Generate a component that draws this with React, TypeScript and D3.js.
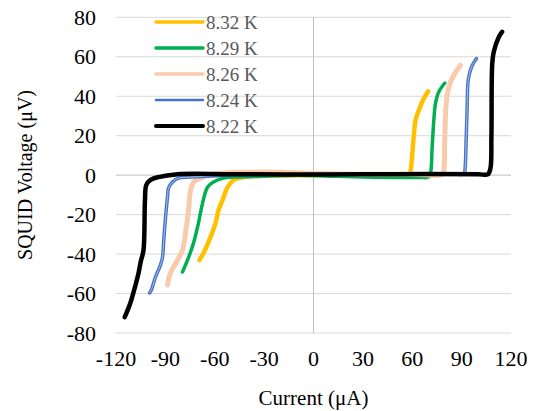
import React from "react";
import * as d3 from "d3";

const seriesNames = ["8.32 K", "8.29 K", "8.26 K", "8.24 K", "8.22 K"];
const seriesColors = ["#FFC000", "#00B050", "#F8CBAD", "#4472C4", "#000000"];
const seriesWidths = [4.5, 3.5, 5, 3.5, 4.5];
const legendWidths = [3.5, 3.5, 3.5, 2.5, 4];

const current832 = [-69.3, -66.8, -62.6, -59.5, -57.7, -55.3, -52.2, -48.6, -42.5, -30, 0, 30, 50, 58.3, 58.9, 60.9, 62, 64, 67, 69.7];
const voltage832 = [-43, -39.5, -31.4, -24.3, -17.7, -12.7, -6.1, -2.5, -1, -0.3, 0, 0.2, 0.3, 0.5, 1.7, 19.4, 27.8, 32.9, 38.8, 42.5];

const current829 = [-79.6, -76.5, -72.9, -69.9, -67.4, -64.4, -60.8, -54.7, -48.6, -30, -10, 10, 30, 50, 65, 69.9, 71.1, 72.1, 73.1, 74.1, 76.1, 79.8];
const voltage829 = [-49.1, -43, -34.4, -24.3, -14.2, -6.1, -3.5, -1.5, -1, -0.5, 0, -0.5, -1, -1.2, -1.2, -1, 0.9, 14.3, 27.8, 36.3, 42.2, 46.7];

const current826 = [-88.7, -86.9, -82.6, -79.6, -77.8, -75.9, -74.7, -72.9, -68.7, -60.8, -40, -20, 0, 30, 60, 78.5, 79.2, 79.8, 80.6, 82.2, 85.2, 89.3];
const voltage826 = [-55.7, -49.6, -43, -38, -29.4, -17.7, -7.6, -3.5, -1.5, 0.5, 1.5, 1.5, 1, 0.5, 0.5, 0.5, 2.5, 19.4, 36.3, 44.7, 50.6, 55.7];

const current824 = [-99.6, -98.4, -97.2, -96, -93, -91.7, -91.1, -89.9, -88.7, -88.1, -85.7, -82, -74.7, -50, 0, 50, 85, 91.4, 91.9, 92.8, 93.4, 94, 96, 99];
const voltage824 = [-59.7, -58, -54.7, -51.6, -45.6, -41.5, -34.4, -21.3, -11.1, -6.6, -3.5, -1.5, -1, 0, 0.3, 0.5, 0.5, 0.6, 1.7, 19.4, 36.3, 48.1, 54.8, 59.1];

const current822 = [-114.7, -111.8, -110.4, -106.4, -105, -103.3, -102.4, -101.6, -99.2, -94.3, -82.6, -50, 0, 50, 100, 105.9, 107.5, 108.1, 108.6, 109.5, 112.6, 114.6];
const voltage822 = [-72, -66, -62.4, -50, -44, -38, -12.7, -5, -2.5, -1, 0.5, 0.5, 0.3, 0.5, 0.5, 0.4, 3.4, 19.4, 56.5, 62.4, 70, 72.6];

const currents = [current832, current829, current826, current824, current822];
const voltages = [voltage832, voltage829, voltage826, voltage824, voltage822];

const xTicks = [-120, -90, -60, -30, 0, 30, 60, 90, 120];
const yTicks = [-80, -60, -40, -20, 0, 20, 40, 60, 80];

export default function App() {
  const W = 538, H = 411;
  const x = d3.scaleLinear().domain([-120, 120]).range([116, 511]);
  const y = d3.scaleLinear().domain([-80, 80]).range([333, 17.3]);
  const line = d3
    .line<[number, number]>()
    .x((d) => x(d[0]))
    .y((d) => y(d[1]))
    .curve(d3.curveCatmullRom.alpha(0.5));
  const font = "'Liberation Serif', 'Times New Roman', serif";
  return (
    <svg width={W} height={H} style={{ position: "absolute", left: 0, top: 0, background: "#fff" }}>
      {yTicks.map((t) => (
        <line key={"g" + t} x1={x(-120)} x2={x(120)} y1={y(t)} y2={y(t)} stroke={t === 0 ? "#bfbfbf" : "#d9d9d9"} strokeWidth={1} />
      ))}
      <line x1={x(0)} x2={x(0)} y1={y(80)} y2={y(-80)} stroke="#bfbfbf" strokeWidth={1} />
      {yTicks.map((t) => (
        <text key={"y" + t} x={96} y={y(t)} textAnchor="end" dominantBaseline="central" fontFamily={font} fontSize={22} fill="#000">
          {t}
        </text>
      ))}
      {xTicks.map((t) => (
        <text key={"x" + t} x={x(t)} y={358} textAnchor="middle" dominantBaseline="central" fontFamily={font} fontSize={22} fill="#000">
          {t}
        </text>
      ))}
      <text x={x(0)} y={398} textAnchor="middle" dominantBaseline="central" fontFamily={font} fontSize={21} fill="#000">
        Current (μA)
      </text>
      <text transform={`translate(25,175) rotate(-90)`} textAnchor="middle" dominantBaseline="central" fontFamily={font} fontSize={20} fill="#000">
        SQUID Voltage (μV)
      </text>
      {currents.map((cs, i) => {
        const pts = cs.map((c, j) => [c, voltages[i][j]] as [number, number]);
        const d = line(pts) || "";
        return (
          <g key={"s" + i}>
            <path d={d} fill="none" stroke={seriesColors[i]} strokeWidth={seriesWidths[i]} strokeLinecap="round" strokeLinejoin="round" />
            {i === 3 && <path d={d} fill="none" stroke="#a9bfe6" strokeWidth={1} strokeLinecap="round" strokeLinejoin="round" />}
          </g>
        );
      })}
      {seriesNames.map((n, i) => (
        <g key={"l" + i}>
          <line x1={156} x2={203} y1={22 + i * 26} y2={22 + i * 26} stroke={seriesColors[i]} strokeWidth={legendWidths[i]} strokeLinecap="round" />
          <text x={206} y={22 + i * 26} dominantBaseline="central" fontFamily={font} fontSize={19} fill="#595959">
            {n}
          </text>
        </g>
      ))}
    </svg>
  );
}
